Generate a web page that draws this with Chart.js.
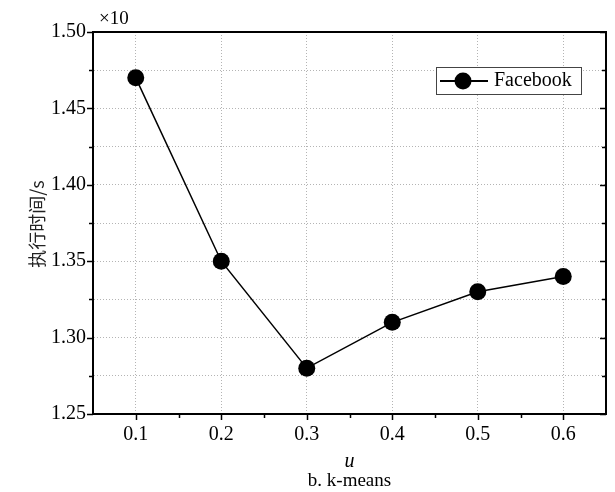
<!DOCTYPE html>
<html lang="zh">
<head>
    <meta charset="UTF-8">
    <title>k-means 执行时间</title>
    <style>
        body {margin: 0; background: #fff;}
    </style>
    <script src="https://cdn.jsdelivr.net/npm/chart.js@4.4.0/dist/chart.umd.min.js"></script>
</head>
<body>
    <canvas id="timeChart" width="615" height="492"></canvas>

    <script>
        // data
        const uValues = [0.1, 0.2, 0.3, 0.4, 0.5, 0.6];
        const facebookTimes = [1.47, 1.35, 1.28, 1.31, 1.33, 1.34];
        const seriesLabel = 'Facebook';
        const xTitle = 'u';
        const captionText = 'b. k-means';
        const yTitle = '执行时间/s';
        const yMultiplier = '×10';

        const serif = '"Liberation Serif", "Times New Roman", serif';

        const isMajorX = v => Math.round(v * 100) % 10 === 0;
        const isMajorY = v => Math.round(v * 1000) % 50 === 0;

        // ticks, frame, legend and titles
        const extras = {
            id: 'extras',
            afterDraw(chart) {
                const c = chart.ctx;
                const a = chart.chartArea;
                const xs = chart.scales.x, ys = chart.scales.y;
                c.save();
                c.strokeStyle = '#000';
                c.lineWidth = 1.5;
                // x ticks (outward)
                xs.ticks.forEach(t => {
                    if (t.value <= xs.min + 1e-9 || t.value >= xs.max - 1e-9) return;
                    const px = Math.round(xs.getPixelForValue(t.value)) + 0.5;
                    const len = isMajorX(t.value) ? 6 : 4;
                    c.beginPath();
                    c.moveTo(px, a.bottom);
                    c.lineTo(px, a.bottom + len);
                    c.stroke();
                });
                // y ticks: outward on left, inward on right
                ys.ticks.forEach(t => {
                    const py = Math.round(ys.getPixelForValue(t.value)) + 0.5;
                    const len = isMajorY(t.value) ? 6 : 4;
                    c.beginPath();
                    c.moveTo(a.left - len, py);
                    c.lineTo(a.left, py);
                    c.moveTo(a.right, py);
                    c.lineTo(a.right - len, py);
                    c.stroke();
                });
                // top and right frame
                c.lineWidth = 2;
                c.beginPath();
                c.moveTo(a.left, a.top);
                c.lineTo(a.right, a.top);
                c.lineTo(a.right, a.bottom);
                c.stroke();

                // legend
                c.lineWidth = 1;
                c.strokeStyle = '#444';
                c.fillStyle = '#fff';
                c.fillRect(436, 67, 146, 28);
                c.strokeRect(436.5, 67.5, 145, 27);
                c.strokeStyle = '#000';
                c.lineWidth = 2;
                c.beginPath();
                c.moveTo(440, 81);
                c.lineTo(488, 81);
                c.stroke();
                c.fillStyle = '#000';
                c.beginPath();
                c.arc(463, 81, 8.5, 0, Math.PI * 2);
                c.fill();
                c.font = '20px ' + serif;
                c.textAlign = 'left';
                c.textBaseline = 'middle';
                c.fillText(seriesLabel, 494, 81);

                // multiplier above the y axis
                c.font = '19px ' + serif;
                c.fillText(yMultiplier, 99, 19);

                // axis titles
                c.textAlign = 'center';
                const cx = (a.left + a.right) / 2;
                c.font = 'italic 20px ' + serif;
                c.fillText(xTitle, cx, 462);
                c.font = '19px ' + serif;
                c.fillText(captionText, cx, 481);

                c.save();
                c.translate(37, (a.top + a.bottom) / 2 + 1);
                c.rotate(-Math.PI / 2);
                c.font = '18px "Noto Sans CJK SC", sans-serif';
                c.fillStyle = '#222';
                c.fillText(yTitle, 0, 0);
                c.restore();
                c.restore();
            }
        };

        const ctx = document.getElementById('timeChart');
        const chart = new Chart(ctx, {
            type: 'line',
            data: {
                datasets: [{
                    label: seriesLabel,
                    data: uValues.map((u, i) => ({x: u, y: facebookTimes[i]})),
                    borderColor: '#000',
                    backgroundColor: '#000',
                    borderWidth: 1.5,
                    pointRadius: 8.5,
                    pointBorderWidth: 0,
                    tension: 0
                }]
            },
            options: {
                responsive: false,
                animation: false,
                devicePixelRatio: 1,
                layout: {padding: {top: 32, right: 9, left: 0, bottom: 0}},
                plugins: {legend: {display: false}, tooltip: {enabled: false}},
                scales: {
                    x: {
                        type: 'linear',
                        min: 0.05,
                        max: 0.65,
                        afterFit: s => { s.height = 78; },
                        ticks: {
                            stepSize: 0.05,
                            autoSkip: false,
                            maxRotation: 0,
                            padding: 9,
                            color: '#000',
                            font: {family: serif, size: 20},
                            callback: v => isMajorX(v) && v > 0.06 && v < 0.64 ? v.toFixed(1) : ''
                        },
                        grid: {
                            drawTicks: false,
                            lineWidth: 1,
                            color: c => (c.tick && isMajorX(c.tick.value) && c.tick.value > 0.06 && c.tick.value < 0.64) ? '#b4b4b4' : 'rgba(0,0,0,0)'
                        },
                        border: {display: true, color: '#000', width: 2, dash: [1, 2]}
                    },
                    y: {
                        min: 1.25,
                        max: 1.50,
                        afterFit: s => { s.width = 93; },
                        ticks: {
                            stepSize: 0.025,
                            autoSkip: false,
                            padding: 7,
                            color: '#000',
                            font: {family: serif, size: 20},
                            callback: v => isMajorY(v) ? v.toFixed(2) : ''
                        },
                        grid: {
                            drawTicks: false,
                            lineWidth: 1,
                            color: c => (c.tick && c.tick.value > 1.251 && c.tick.value < 1.499) ? '#b4b4b4' : 'rgba(0,0,0,0)'
                        },
                        border: {display: true, color: '#000', width: 2, dash: [1, 2]}
                    }
                }
            },
            plugins: [extras]
        });
    </script>
</body>
</html>
